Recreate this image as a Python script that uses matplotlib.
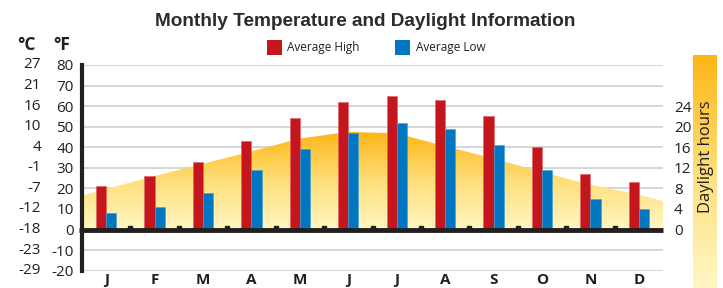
import numpy as np
import matplotlib
matplotlib.use("Agg")
import matplotlib.pyplot as plt
import matplotlib.transforms as mtransforms
from matplotlib.patches import Polygon, Rectangle
from matplotlib.colors import LinearSegmentedColormap

# ---- data ----
months = ["J", "F", "M", "A", "M", "J", "J", "A", "S", "O", "N", "D"]
high_f = [21, 26, 33, 43, 54, 62, 65, 63, 55, 40, 27, 23]
low_f = [8, 11, 18, 29, 39, 47, 52, 49, 41, 29, 15, 10]
daylight_hours = [7.9, 10.4, 12.8, 15.2, 17.7, 19.0, 18.7, 16.2, 13.8, 11.2, 8.7, 6.8]
daylight_edges = [6.6, 5.5]  # left edge, right edge of the area

f_ticks = [-20, -10, 0, 10, 20, 30, 40, 50, 60, 70, 80]
c_labels = ["-29", "-23", "-18", "-12", "-7", "-1", "4", "10", "16", "21", "27"]
hour_ticks = [0, 4, 8, 12, 16, 20, 24]

RED = "#c4161c"
BLUE = "#0077c0"
DARK = "#231f20"
plt.rcParams["font.family"] = ["Open Sans", "DejaVu Sans"]

fig = plt.figure(figsize=(7.23, 2.88), dpi=100)
W, H = 723, 288
ax = fig.add_axes([82 / W, 1 - 270.7 / H, (663 - 82) / W, (270.7 - 65) / H])
ax.set_xlim(0, 12)
ax.set_ylim(-20, 80)

# gradient colormap (pale yellow -> orange)
cmap = LinearSegmentedColormap.from_list("day", ["#fff7c4", "#fedf7a", "#fdb515"])

# daylight area (hours * 2.5 = degrees F on the left scale)
xs = [0] + [i + 0.5 for i in range(12)] + [12]
ys = [daylight_edges[0] * 2.5] + [h * 2.5 for h in daylight_hours] + [daylight_edges[1] * 2.5]
poly = Polygon(list(zip(xs, ys)) + [(12, 0), (0, 0)], closed=True, facecolor="none", edgecolor="none")
ax.add_patch(poly)
grad = np.linspace(0, 1, 256).reshape(-1, 1)
im = ax.imshow(grad, cmap=cmap, aspect="auto", origin="lower", extent=[0, 12, 0, 48],
               zorder=1, interpolation="bilinear")
im.set_clip_path(poly)

# grid lines
for t in f_ticks:
    if t != 0:
        ax.axhline(t, color="#cfcfcf", lw=1.2, zorder=0.5)

# bars
x = np.arange(12) + 0.5
bw = 0.21
ax.bar(x - bw / 2, high_f, width=bw, color=RED, zorder=3, edgecolor="#e06065", linewidth=0.4)
ax.bar(x + bw / 2, low_f, width=bw, color=BLUE, zorder=3, edgecolor="#3aa0dc", linewidth=0.4)

# zero line and small marks at month boundaries
ax.plot([-0.07, 12], [0, 0], color=DARK, lw=3.5, zorder=4, clip_on=False, solid_capstyle="butt")
ax.plot(np.arange(1, 12), [0.9] * 11, "s", color=DARK, ms=2.5, zorder=4)

for s in ["top", "right", "bottom"]:
    ax.spines[s].set_visible(False)
ax.spines["left"].set_linewidth(3)
ax.spines["left"].set_color(DARK)

ax.set_xticks(x)
ax.set_xticklabels(months, fontsize=11, fontweight="bold", color=DARK)
ax.tick_params(axis="x", length=0, pad=2)
ax.set_yticks(f_ticks)
ax.set_yticklabels([str(t) for t in f_ticks], fontsize=11, color=DARK)
ax.tick_params(axis="y", length=0, pad=6)

# celsius column
tr = mtransforms.blended_transform_factory(fig.transFigure, ax.transData)
for f, c in zip(f_ticks, c_labels):
    ax.text(41 / W, f, c, transform=tr, ha="right", va="center", fontsize=11, color=DARK)
fig.text(27 / W, 1 - 45 / H, "°C", ha="center", va="center", fontsize=12.5, fontweight="bold", color=DARK)
fig.text(62 / W, 1 - 45 / H, "°F", ha="center", va="center", fontsize=12.5, fontweight="bold", color=DARK)

# right axis (daylight hours)
ax2 = ax.twinx()
ax2.set_ylim(-8, 32)
ax2.set_yticks(hour_ticks)
ax2.set_yticklabels([str(h) for h in hour_ticks], fontsize=11, color=DARK)
ax2.tick_params(axis="y", length=0, pad=8)
for s in ax2.spines.values():
    s.set_visible(False)

# gradient strip on the right
sax = fig.add_axes([693 / W, 0, 24 / W, 1 - 55 / H])
sax.imshow(np.linspace(0, 1, 256).reshape(-1, 1), cmap=cmap, aspect="auto", origin="lower",
           extent=[0, 1, 0, 1], interpolation="bilinear")
sax.set_xlim(0, 1)
sax.set_ylim(0, 1)
sax.axis("off")
fig.text(706 / W, 1 - 157 / H, "Daylight hours", rotation=90, ha="center", va="center",
         fontsize=12, color=DARK)

# title and legend
fig.text(365 / W, 1 - 21 / H, "Monthly Temperature and Daylight Information", ha="center", va="center",
         fontsize=13.7, fontweight="bold", color="#2b2b2b", family=["Liberation Sans", "DejaVu Sans"])
fig.patches.append(Rectangle((267 / W, 1 - 55 / H), 15 / W, 15 / H, transform=fig.transFigure,
                             facecolor=RED, edgecolor="none"))
fig.text(287 / W, 1 - 48 / H, "Average High", ha="left", va="center", fontsize=8.5, color=DARK)
fig.patches.append(Rectangle((395 / W, 1 - 55 / H), 15 / W, 15 / H, transform=fig.transFigure,
                             facecolor=BLUE, edgecolor="none"))
fig.text(416 / W, 1 - 48 / H, "Average Low", ha="left", va="center", fontsize=8.5, color=DARK)

fig.savefig("out.png", dpi=100)
